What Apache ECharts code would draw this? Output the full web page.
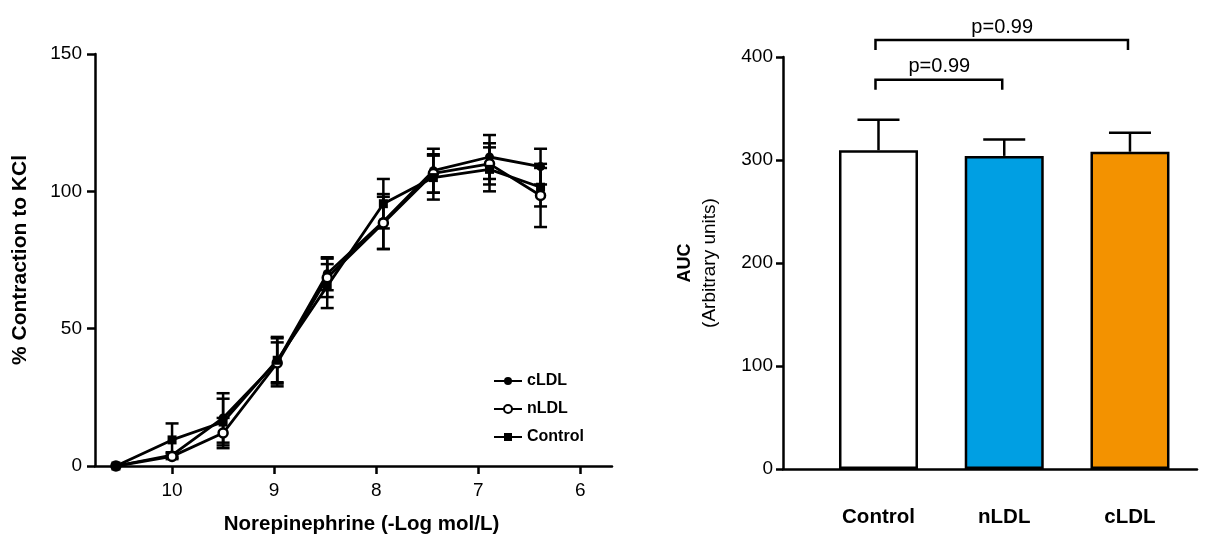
<!DOCTYPE html>
<html><head><meta charset="utf-8">
<script src="https://cdn.jsdelivr.net/npm/echarts@6/dist/echarts.min.js"></script>
<style>html,body{margin:0;padding:0;background:#fff}#c{width:1205px;height:541px}</style>
</head><body><div id="c"></div>
<script>
// ---- Left panel: concentration-response curves ----
const doseLogM = [10.55, 10.0, 9.5, 8.97, 8.48, 7.93, 7.44, 6.89, 6.39];
const cLDL = [0, 4, 17.5, 38, 70, 89, 107.5, 112.5, 109];
const cLDLErr = [0, 1, 9, 9, 6, 10, 8, 8, 6.5];
const nLDL = [0, 3.5, 12, 37.5, 68.5, 88.5, 106.5, 110, 98.5];
const nLDLErr = [0, 1, 5.5, 7.5, 7, 9.5, 7, 7.5, 11.5];
const control = [0, 9.5, 16, 38.5, 65.5, 95.5, 105, 108, 101.5];
const controlErr = [0, 6, 8.5, 8, 8, 9, 8, 8, 7];
const xTicks = [10, 9, 8, 7, 6];
// ---- Right panel: AUC ----
const groups = ['Control', 'nLDL', 'cLDL'];
const aucMean = [309.5, 304, 308];
const aucSEM = [29.5, 16, 18.5];
const barColors = ['#FFFFFF', '#009FE3', '#F39200'];
const comparisons = [[1, 2, 378, 'p=0.99'], [1, 3, 416.5, 'p=0.99']];

const FONT = 'Liberation Sans, Arial, sans-serif';
const LW = 2.5;

function errRender(capW, upOnly) {
  return function (params, api) {
    const x = api.value(0), m = api.value(1), e = api.value(2);
    if (!e) return null;
    const top = api.coord([x, m + e]);
    const bot = upOnly ? api.coord([x, m]) : api.coord([x, m - e]);
    const h = capW / 2;
    const st = { stroke: '#000', lineWidth: LW, fill: null };
    const ch = [
      { type: 'line', shape: { x1: top[0], y1: top[1], x2: bot[0], y2: bot[1] }, style: st },
      { type: 'line', shape: { x1: top[0] - h, y1: top[1], x2: top[0] + h, y2: top[1] }, style: st }
    ];
    if (!upOnly) ch.push({ type: 'line', shape: { x1: bot[0] - h, y1: bot[1], x2: bot[0] + h, y2: bot[1] }, style: st });
    return { type: 'group', children: ch };
  };
}

function lineSeries(name, vals, symbol, fill) {
  return {
    name: name, type: 'line', xAxisIndex: 0, yAxisIndex: 0,
    data: doseLogM.map((x, i) => [x, vals[i]]),
    symbol: symbol, symbolSize: 9, showAllSymbol: true,
    lineStyle: { color: '#000', width: 2.8 },
    itemStyle: { color: fill, borderColor: '#000', borderWidth: fill === '#fff' ? 2.5 : 0 },
    z: 3, animation: false
  };
}
function errSeries(vals, errs) {
  return {
    type: 'custom', xAxisIndex: 0, yAxisIndex: 0,
    data: doseLogM.map((x, i) => [x, vals[i], errs[i]]),
    encode: { x: 0, y: 1 }, renderItem: errRender(13, false), z: 2, animation: false, clip: false
  };
}

const axisLineStyle = { color: '#000', width: LW };
const chart = echarts.init(document.getElementById('c'), null, { renderer: 'canvas' });
chart.setOption({
  animation: false,
  textStyle: { fontFamily: FONT, color: '#000' },
  grid: [
    { left: 95, top: 54, width: 517, height: 412 },
    { left: 783, top: 57, width: 414, height: 412 }
  ],
  legend: {
    data: ['cLDL', 'nLDL', 'Control'], orient: 'vertical', left: 488, top: 368,
    itemWidth: 28, itemHeight: 10, itemGap: 12,
    textStyle: { fontFamily: FONT, fontWeight: 'bold', fontSize: 16, color: '#000' }
  },
  xAxis: [
    {
      type: 'value', gridIndex: 0, inverse: true, min: 5.69, max: 10.755,
      axisLine: { lineStyle: axisLineStyle },
      axisTick: { customValues: xTicks, length: 8, lineStyle: axisLineStyle },
      axisLabel: { customValues: xTicks, margin: 15, fontSize: 19, color: '#000', fontFamily: FONT },
      splitLine: { show: false },
      name: 'Norepinephrine (-Log mol/L)', nameLocation: 'middle', nameGap: 48,
      nameTextStyle: { fontFamily: FONT, fontWeight: 'bold', fontSize: 20.5, color: '#000', padding: [0, 0, 0, 16] }
    },
    {
      type: 'value', gridIndex: 1, min: 0.2406, max: 3.533,
      axisLine: { lineStyle: axisLineStyle },
      axisTick: { show: false },
      axisLabel: { customValues: [1, 2, 3], formatter: v => groups[Math.round(v) - 1] || '', margin: 38, fontSize: 20.5, fontWeight: 'bold', color: '#000', fontFamily: FONT },
      splitLine: { show: false }
    }
  ],
  yAxis: [
    {
      type: 'value', gridIndex: 0, min: 0, max: 150, interval: 50,
      axisLine: { show: true, lineStyle: axisLineStyle },
      axisTick: { show: true, length: 8, lineStyle: axisLineStyle },
      axisLabel: { margin: 13, fontSize: 19, color: '#000', fontFamily: FONT },
      splitLine: { show: false },
      name: '% Contraction to KCl', nameLocation: 'middle', nameGap: 64,
      nameTextStyle: { fontFamily: FONT, fontWeight: 'bold', fontSize: 21, color: '#000' }
    },
    {
      type: 'value', gridIndex: 1, min: 0, max: 400, interval: 100,
      axisLine: { show: true, lineStyle: axisLineStyle },
      axisTick: { show: true, length: 7, lineStyle: axisLineStyle },
      axisLabel: { margin: 10, fontSize: 19, color: '#000', fontFamily: FONT },
      splitLine: { show: false },
      name: '{a|AUC}\n{b|(Arbitrary units)}', nameLocation: 'middle', nameGap: 63,
      nameTextStyle: {
        fontFamily: FONT, color: '#000', align: 'center',
        rich: {
          a: { fontFamily: FONT, fontWeight: 'bold', fontSize: 18, color: '#000', lineHeight: 27, align: 'center' },
          b: { fontFamily: FONT, fontSize: 19, color: '#000', lineHeight: 21, align: 'center' }
        }
      }
    }
  ],
  series: [
    errSeries(cLDL, cLDLErr), errSeries(nLDL, nLDLErr), errSeries(control, controlErr),
    lineSeries('cLDL', cLDL, 'circle', '#000'),
    lineSeries('nLDL', nLDL, 'circle', '#fff'),
    lineSeries('Control', control, 'rect', '#000'),
    {
      type: 'bar', xAxisIndex: 1, yAxisIndex: 1, barWidth: 79,
      data: groups.map((g, i) => ({ value: [i + 1, aucMean[i]], itemStyle: { color: barColors[i] } })),
      itemStyle: { borderColor: '#000', borderWidth: LW }, z: 2
    },
    {
      type: 'custom', xAxisIndex: 1, yAxisIndex: 1, clip: false,
      data: groups.map((g, i) => [i + 1, aucMean[i], aucSEM[i]]),
      encode: { x: 0, y: 1 }, renderItem: errRender(42, true), z: 3
    },
    {
      type: 'custom', xAxisIndex: 1, yAxisIndex: 1, clip: false,
      data: comparisons.map(c => [c[0], c[1], c[2]]),
      encode: { x: [0, 1], y: 2 },
      renderItem: function (params, api) {
        const y = api.value(2);
        const p1 = api.coord([api.value(0), y]);
        const p2 = api.coord([api.value(1), y]);
        const drop = 10;
        return {
          type: 'group', children: [
            { type: 'polyline', shape: { points: [[p1[0] - 3, p1[1] + drop], [p1[0] - 3, p1[1]], [p2[0] - 2, p2[1]], [p2[0] - 2, p2[1] + drop]] },
              style: { stroke: '#000', lineWidth: LW, fill: null } },
            { type: 'text', x: (p1[0] + p2[0]) / 2 - 2, y: p1[1] - 3,
              style: { text: comparisons[params.dataIndex][3], fontFamily: FONT, fontSize: 20, fill: '#000', align: 'center', verticalAlign: 'bottom' } }
          ]
        };
      }, z: 3
    }
  ]
});
</script></body></html>
